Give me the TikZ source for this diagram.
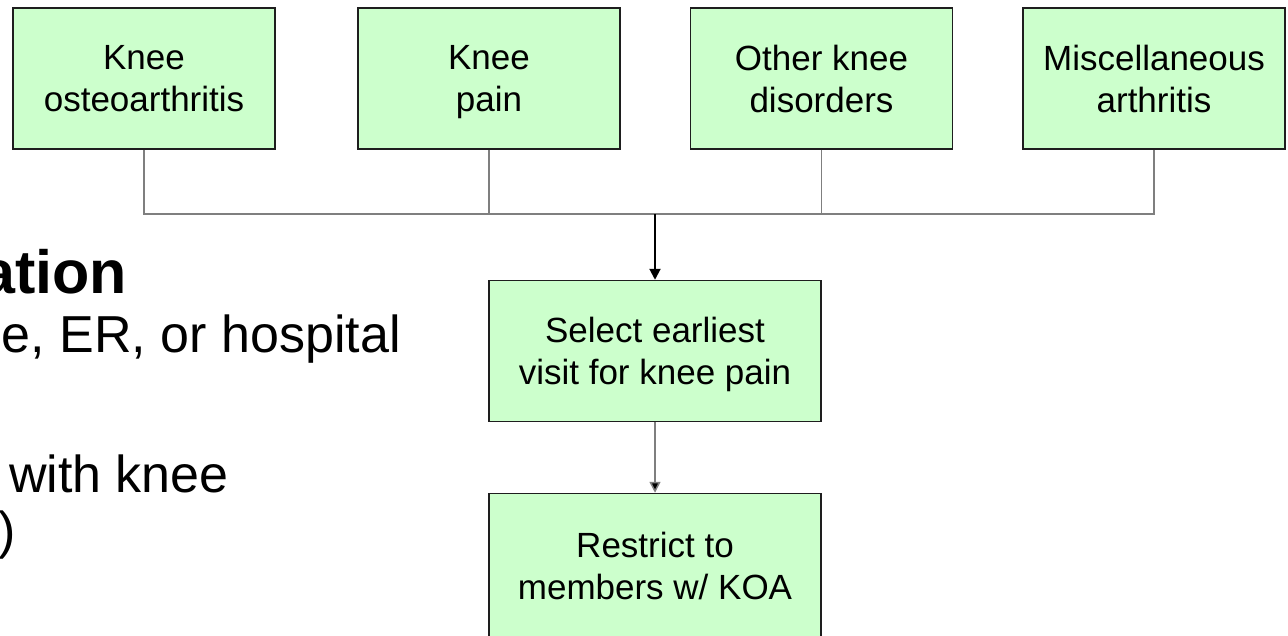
\documentclass[tikz,border=0pt]{standalone}
\usepackage{fontspec}
\setmainfont{Liberation Sans}
\usetikzlibrary{arrows.meta}
\definecolor{boxfill}{HTML}{CCFFCC}
\definecolor{boxline}{HTML}{1E1E1E}
\definecolor{connline}{HTML}{7F7F7F}
\tikzset{
  stepbox/.style={draw=boxline, line width=1.5pt, fill=boxfill, rectangle, inner sep=0pt,
    align=center, text depth=0pt, font=\fontsize{35}{42}\selectfont},
  topbox/.style={stepbox, minimum width=262pt, minimum height=141pt},
  midbox/.style={stepbox, minimum width=332pt, minimum height=141pt},
  conn/.style={draw=connline, line width=1.5pt},
  mainarrow/.style={draw=black, line width=2pt, -{Triangle[width=11pt,length=11pt]}},
  subarrow/.style={draw=connline, line width=1.5pt, -{Triangle[width=11pt,length=11pt,fill=black]}},
  slidetext/.style={anchor=base east, inner sep=0pt, font=\fontsize{52}{62}\selectfont},
  slidetitle/.style={anchor=base east, inner sep=0pt, font=\fontsize{61}{72}\selectfont\bfseries}
}
\begin{document}
\begin{tikzpicture}[x=1pt, y=-1pt]
\useasboundingbox[fill=white] (0,0) rectangle (1288,635);

% left slide text (partly cut off)
\node[slidetitle] (title) at (127,293) {ation};
\node[slidetext] (l1) at (401,352) {e, ER, or hospital};
\node[slidetext] (l2) at (229,492) {with knee};
\node[slidetext] (l3) at (16,548) {)};

% top row boxes
\node[topbox] (k1) at (144,78.5) {Knee\\osteoarthritis};
\node[topbox] (k2) at (489,78.5) {Knee\\pain};
\node[topbox] (k3) at (821.5,78.5) {Other knee\\disorders};
\node[topbox] (k4) at (1154,78.5) {Miscellaneous\\arthritis};

% lower boxes
\node[midbox] (sel) at (655,351) {Select earliest\\visit for knee pain};
\node[midbox, minimum height=144pt] (res) at (655,565.5) {Restrict to\\members w/ KOA};

% connectors
\coordinate (j) at (655,214);
\draw[conn] (k1.south) |- (j);
\draw[conn] (k4.south) |- (j);
\draw[conn] (k2.south) -- (k2.south |- j);
\draw[conn] (k3.south) -- (k3.south |- j);
\draw[mainarrow] (j) -- (sel.north);
\draw[subarrow] (sel.south) -- (res.north);
\end{tikzpicture}
\end{document}
